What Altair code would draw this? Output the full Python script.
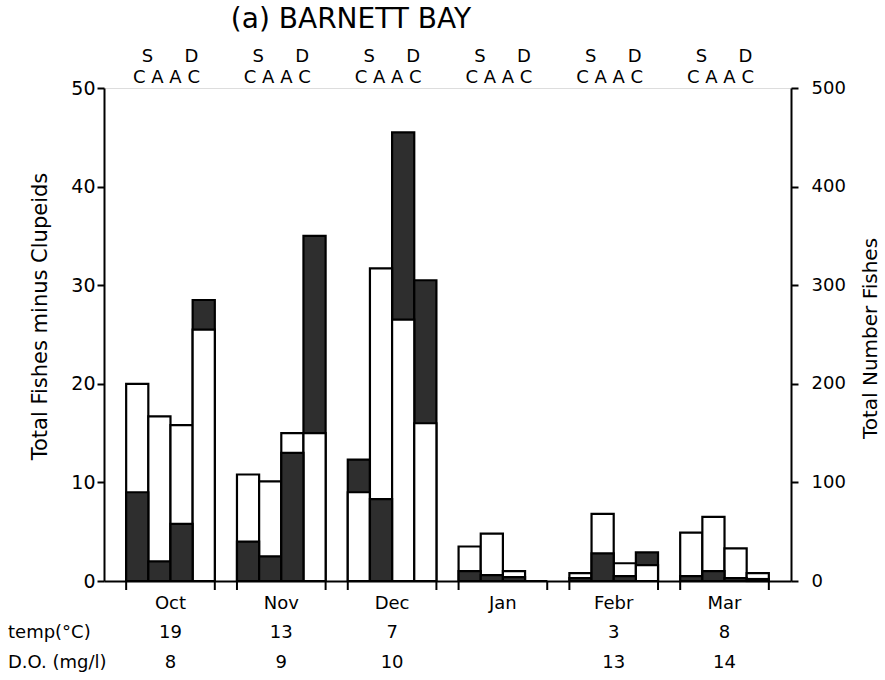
import altair as alt
import pandas as pd

FONT = "DejaVu Sans"
DARK = "#2e2e2e"

months = ["Oct", "Nov", "Dec", "Jan", "Febr", "Mar"]
stations = ["SC", "SA", "DA", "DC"]

# Total number of fishes (right axis), per month in station order SC, SA, DA, DC
total_number = [
    [200, 167, 158, 255],
    [108, 101, 150, 150],
    [90, 317, 265, 160],
    [35, 48, 10, 0],
    [8, 68, 18, 16],
    [49, 65, 33, 8],
]
# Total fishes minus clupeids (left axis), same order
minus_clupeids = [
    [9.0, 2.0, 5.8, 28.5],
    [4.0, 2.5, 13.0, 35.0],
    [12.3, 8.3, 45.5, 30.5],
    [1.0, 0.6, 0.4, 0.0],
    [0.3, 2.8, 0.5, 2.9],
    [0.5, 1.0, 0.3, 0.2],
]
temp_c = ["19", "13", "7", "", "3", "8"]
dissolved_oxygen = ["8", "9", "10", "", "13", "14"]

W, H = 687, 493

rows = []
for m, tot, mc in zip(months, total_number, minus_clupeids):
    for s, t, v in zip(stations, tot, mc):
        rows.append({"month": m, "station": s, "total": t, "minus": v})
bars = pd.DataFrame(rows)
month_df = pd.DataFrame({"month": months, "temp": temp_c, "do": dissolved_oxygen})

band = alt.Scale(paddingInner=0.2, paddingOuter=0.2)
month_axis = alt.Axis(title=None, ticks=False, labelAngle=0, labelFontSize=18, labelFont=FONT,
                      labelColor="black", labelPadding=13, domainColor="black", domainWidth=2)
x_month = alt.X("month:N", sort=months, scale=band, axis=month_axis)
x_off = alt.XOffset("station:N", sort=stations, scale=alt.Scale(paddingInner=0, paddingOuter=0))

left_axis = alt.Axis(
    values=[0, 10, 20, 30, 40, 50], grid=False, tickSize=7, tickWidth=2, tickColor="black",
    domainColor="black", domainWidth=2, labelFontSize=19, labelFont=FONT, labelColor="black",
    labelPadding=2, title="Total Fishes minus Clupeids", titleFont=FONT, titleFontSize=21,
    titleFontWeight="normal", titleColor="black", titleAngle=270, titleX=-64, titleY=228,
    titleAlign="center", titleBaseline="middle",
)
right_axis = alt.Axis(
    orient="right", values=[0, 100, 200, 300, 400, 500], grid=False, tickSize=7, tickWidth=2,
    tickColor="black", domainColor="black", domainWidth=2, labelFontSize=18, labelFont=FONT,
    labelColor="black", labelPadding=13, title="Total Number Fishes", titleFont=FONT,
    titleFontSize=20, titleFontWeight="normal", titleColor="black", titleAngle=270,
    titleX=79, titleY=250, titleAlign="center", titleBaseline="middle",
)

bar_style = dict(stroke="black", strokeWidth=2.2)

# Taller bar of each pair is drawn first, shorter one in front of it
dark_back = (
    alt.Chart(bars)
    .transform_filter("datum.minus * 10 >= datum.total")
    .mark_bar(fill=DARK, **bar_style)
    .encode(x=x_month, xOffset=x_off,
            y=alt.Y("minus:Q", scale=alt.Scale(domain=[0, 50]), axis=left_axis))
)
white = (
    alt.Chart(bars)
    .mark_bar(fill="white", **bar_style)
    .encode(x=x_month, xOffset=x_off,
            y=alt.Y("total:Q", scale=alt.Scale(domain=[0, 500]), axis=right_axis))
)
dark_front = (
    alt.Chart(bars)
    .transform_filter("datum.minus * 10 < datum.total")
    .mark_bar(fill=DARK, **bar_style)
    .encode(x=x_month, xOffset=x_off,
            y=alt.Y("minus:Q", scale=alt.Scale(domain=[0, 50]), axis=None))
)

# Month tick marks at both edges of each group
tick_start = alt.Chart(month_df).mark_rule(color="black", strokeWidth=2).encode(
    x=alt.X("month:N", sort=months, scale=band, bandPosition=0, axis=month_axis),
    y=alt.value(H), y2=alt.value(H + 9),
)
tick_end = alt.Chart(month_df).mark_rule(color="black", strokeWidth=2).encode(
    x=alt.X("month:N", sort=months, scale=band, bandPosition=1, axis=month_axis),
    y=alt.value(H), y2=alt.value(H + 9),
)

txt = dict(font=FONT, fontSize=18, color="black", align="center", baseline="middle")
s_row = alt.Chart(month_df).mark_text(text="S", dx=-23, **txt).encode(
    x=x_month, y=alt.value(-31))
d_row = alt.Chart(month_df).mark_text(text="D", dx=21, **txt).encode(
    x=x_month, y=alt.value(-31))
caac_row = alt.Chart(month_df).mark_text(text="C A A C", dx=-4, **txt).encode(
    x=x_month, y=alt.value(-10))
temp_row = alt.Chart(month_df).mark_text(**txt).encode(
    x=x_month, y=alt.value(H + 52), text="temp:N")
do_row = alt.Chart(month_df).mark_text(**txt).encode(
    x=x_month, y=alt.value(H + 82), text="do:N")

labels = pd.DataFrame({"label": ["temp(°C)", "D.O. (mg/l)"], "row": [H + 52, H + 82]})
row_labels = alt.Chart(labels).mark_text(font=FONT, fontSize=18, color="black", align="left",
                                         baseline="middle").encode(
    x=alt.value(-96), y=alt.Y("row:Q", scale=None), text="label:N")

title = alt.Chart(month_df.head(1)).mark_text(
    text="(a) BARNETT BAY", font=FONT, fontSize=28, color="black", align="center",
    baseline="middle").encode(x=alt.value(247), y=alt.value(-68))

chart = (
    alt.layer(dark_back, white, dark_front, tick_start, tick_end, s_row, d_row, caac_row,
              temp_row, do_row, row_labels, title)
    .resolve_scale(y="independent")
    .properties(width=W, height=H,
                autosize=alt.AutoSizeParams(type="none"),
                padding={"left": 104, "top": 88, "right": 885 - 104 - W, "bottom": 680 - 88 - H})
    .configure_view(stroke=None)
    .configure(background="white")
)

chart.save("out.html", embed_options={"renderer": "svg", "actions": False})
